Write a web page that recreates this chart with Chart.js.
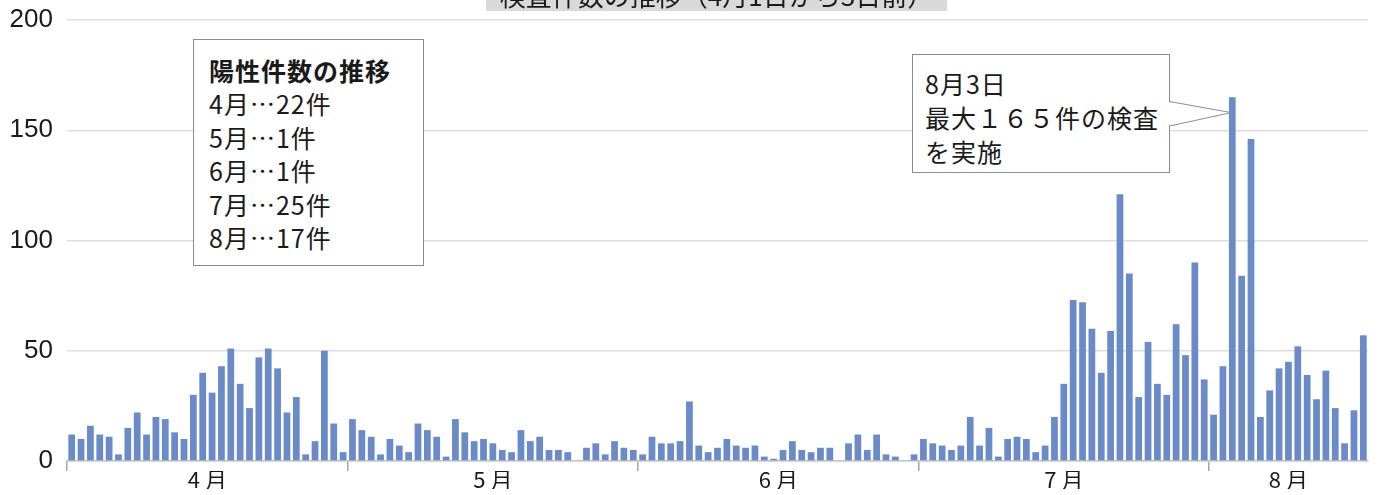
<!DOCTYPE html>
<html lang="ja">
<head>
    <meta charset="UTF-8">
    <title>検査件数の推移</title>
    <script src="https://cdn.jsdelivr.net/npm/chart.js"></script>
    <style>
        body { margin: 0; background: #ffffff; overflow: hidden; }
        .wrap { position: relative; width: 1381px; height: 495px; overflow: hidden;
                font-family: 'Noto Sans CJK JP', sans-serif; color: #1a1a1a; }
        canvas { position: absolute; left: 0; top: 0; }
        .title { position: absolute; left: 486px; top: -21px; width: 461px; height: 32px;
                 line-height: 32px; background: #d9d9d9; text-align: center; font-size: 26px; }
        .note { position: absolute; background: #ffffff; border: 1px solid #8c8c8c;
                box-sizing: border-box; font-size: 25px; letter-spacing: 1px; }
        #positives { left: 193px; top: 39px; width: 231px; height: 227px;
                     padding: 14px 0 0 15px; line-height: 33.4px; }
        #positives b { font-weight: 700; }
        #peak { left: 912px; top: 54px; width: 258px; height: 119px;
                padding: 11px 0 0 12px; line-height: 34px; }
        svg { position: absolute; left: 0; top: 0; pointer-events: none; }
    </style>
</head>
<body>
<div class="wrap">
    <canvas id="testChart" width="1381" height="495"></canvas>
    <div class="title">検査件数の推移（4月1日から3日前）</div>
    <div class="note" id="positives">
        <b>陽性件数の推移</b><br>
        4月…22件<br>
        5月…1件<br>
        6月…1件<br>
        7月…25件<br>
        8月…17件
    </div>
    <div class="note" id="peak">
        8月3日<br>
        最大１６５件の検査<br>
        を実施
    </div>
    <svg id="pointer" width="1381" height="495"></svg>
</div>

<script>
    // daily test counts
    const april = [12, 10, 16, 12, 11, 3, 15, 22, 12, 20, 19, 13, 10, 30, 40, 31, 43, 51, 35, 24,
                   47, 51, 42, 22, 29, 3, 9, 50, 17, 4];
    const may = [19, 14, 11, 3, 10, 7, 4, 17, 14, 11, 2, 19, 13, 9, 10, 8, 5, 4, 14, 9,
                 11, 5, 5, 4, 0, 6, 8, 3, 9, 6, 5];
    const june = [3, 11, 8, 8, 9, 27, 7, 4, 6, 10, 7, 6, 7, 2, 1, 5, 9, 5, 4, 6,
                  6, 0, 8, 12, 5, 12, 3, 2, 0, 3];
    const july = [10, 8, 7, 5, 7, 20, 7, 15, 2, 10, 11, 10, 4, 7, 20, 35, 73, 72, 60, 40,
                  59, 121, 85, 29, 54, 35, 30, 62, 48, 90, 37];
    const august = [21, 43, 165, 84, 146, 20, 32, 42, 45, 52, 39, 28, 41, 24, 8, 23, 57];

    const monthNums = [4, 5, 6, 7, 8];
    const monthLabels = ['4 月', '5 月', '6 月', '7 月', '8 月'];
    const yTicks = [0, 50, 100, 150, 200];

    // build day categories and month boundaries
    const months = [april, may, june, july, august];
    const labels = [];
    const counts = [];
    const boundaries = [];
    const monthCenters = [];
    months.forEach((arr, m) => {
        boundaries.push(labels.length);
        monthCenters.push(labels.length + arr.length / 2);
        arr.forEach((v, d) => {
            labels.push(monthNums[m] + '/' + (d + 1));
            counts.push(v);
        });
    });
    const peakIndex = labels.indexOf('8/3');

    const pointerPlugin = {
        id: 'pointer',
        afterRender(chart) {
            const tipX = chart.scales.x.getPixelForValue(peakIndex) - 1;
            const tipY = chart.scales.y.getPixelForValue(158);
            const svg = document.getElementById('pointer');
            svg.innerHTML =
                '<polygon points="1168,102 ' + tipX + ',' + tipY + ' 1168,125.5" fill="#ffffff"/>' +
                '<polyline points="1169.5,101.5 ' + tipX + ',' + tipY + ' 1169.5,126" fill="none" stroke="#8c8c8c" stroke-width="1"/>';
        }
    };

    const ctx = document.getElementById('testChart').getContext('2d');
    const chart = new Chart(ctx, {
        type: 'bar',
        data: {
            labels: labels,
            datasets: [{
                data: counts,
                backgroundColor: '#6a8ac8',
                borderWidth: 0,
                categoryPercentage: 1.0,
                barPercentage: 0.72
            }]
        },
        options: {
            responsive: false,
            animation: false,
            layout: { padding: { top: 20, right: 13, bottom: 6, left: 0 } },
            plugins: {
                legend: { display: false },
                tooltip: { enabled: false }
            },
            scales: {
                x: {
                    position: 'bottom',
                    offset: true,
                    grid: {
                        offset: true,
                        drawOnChartArea: false,
                        drawTicks: true,
                        tickLength: 10,
                        lineWidth: 1.5,
                        color: (c) => boundaries.includes(c.index) ? '#a6a6a6' : 'rgba(0,0,0,0)'
                    },
                    border: { color: '#c4c4c4', width: 1.5 },
                    ticks: { display: false }
                },
                xm: {
                    type: 'linear',
                    position: 'bottom',
                    offset: false,
                    min: 0,
                    max: labels.length,
                    grid: { display: false, drawTicks: false, offset: false },
                    border: { display: false },
                    afterBuildTicks: (scale) => {
                        scale.ticks = monthCenters.map(v => ({ value: v }));
                    },
                    ticks: {
                        autoSkip: false,
                        maxRotation: 0,
                        padding: -2,
                        color: '#1a1a1a',
                        font: { family: "'Noto Sans CJK JP', sans-serif", size: 22, lineHeight: 1.0 },
                        callback: (v, i) => monthLabels[i]
                    }
                },
                y: {
                    min: 0,
                    max: 200,
                    afterBuildTicks: (scale) => {
                        scale.ticks = yTicks.map(v => ({ value: v }));
                    },
                    afterFit: (scale) => {
                        scale.width = 67;
                        scale.paddingTop = 0;
                        scale.paddingBottom = 0;
                    },
                    grid: { color: '#dedede', lineWidth: 1.5, drawTicks: false },
                    border: { display: false },
                    ticks: {
                        padding: 14,
                        color: '#1a1a1a',
                        font: { family: "'Liberation Sans', Arial, sans-serif", size: 26 }
                    }
                }
            }
        },
        plugins: [pointerPlugin]
    });
</script>
</body>
</html>
